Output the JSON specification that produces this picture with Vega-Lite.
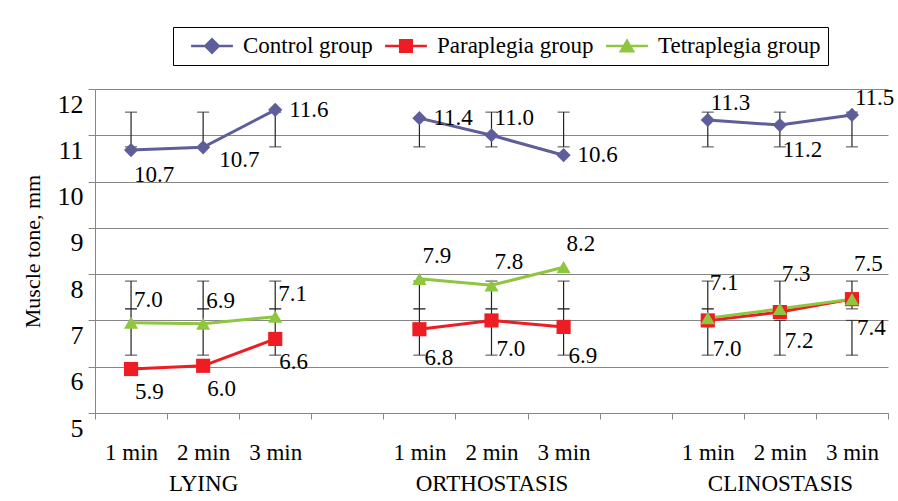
{
  "$schema": "https://vega.github.io/schema/vega-lite/v6.json",
  "width": 793,
  "height": 324,
  "autosize": {"type": "none"},
  "padding": {"left": 95, "top": 89, "right": 10, "bottom": 88},
  "background": "white",
  "config": {"view": {"stroke": null}, "font": "Liberation Serif", "text": {"font": "Liberation Serif"}},
  "resolve": {"scale": {"shape": "independent", "color": "independent"}},
  "datasets": {
    "pts": [
      {"series": "Control group", "cond": "LYING", "slot": "L1", "value": 10.68, "label": "10.7"},
      {"series": "Control group", "cond": "LYING", "slot": "L2", "value": 10.74, "label": "10.7"},
      {"series": "Control group", "cond": "LYING", "slot": "L3", "value": 11.55, "label": "11.6"},
      {"series": "Control group", "cond": "ORTHOSTASIS", "slot": "O1", "value": 11.37, "label": "11.4"},
      {"series": "Control group", "cond": "ORTHOSTASIS", "slot": "O2", "value": 11.0, "label": "11.0"},
      {"series": "Control group", "cond": "ORTHOSTASIS", "slot": "O3", "value": 10.57, "label": "10.6"},
      {"series": "Control group", "cond": "CLINOSTASIS", "slot": "C1", "value": 11.33, "label": "11.3"},
      {"series": "Control group", "cond": "CLINOSTASIS", "slot": "C2", "value": 11.22, "label": "11.2"},
      {"series": "Control group", "cond": "CLINOSTASIS", "slot": "C3", "value": 11.44, "label": "11.5"},
      {"series": "Paraplegia group", "cond": "LYING", "slot": "L1", "value": 5.95, "label": "5.9"},
      {"series": "Paraplegia group", "cond": "LYING", "slot": "L2", "value": 6.02, "label": "6.0"},
      {"series": "Paraplegia group", "cond": "LYING", "slot": "L3", "value": 6.6, "label": "6.6"},
      {"series": "Paraplegia group", "cond": "ORTHOSTASIS", "slot": "O1", "value": 6.81, "label": "6.8"},
      {"series": "Paraplegia group", "cond": "ORTHOSTASIS", "slot": "O2", "value": 7.0, "label": "7.0"},
      {"series": "Paraplegia group", "cond": "ORTHOSTASIS", "slot": "O3", "value": 6.86, "label": "6.9"},
      {"series": "Paraplegia group", "cond": "CLINOSTASIS", "slot": "C1", "value": 7.0, "label": "7.0"},
      {"series": "Paraplegia group", "cond": "CLINOSTASIS", "slot": "C2", "value": 7.18, "label": "7.2"},
      {"series": "Paraplegia group", "cond": "CLINOSTASIS", "slot": "C3", "value": 7.46, "label": "7.4"},
      {"series": "Tetraplegia group", "cond": "LYING", "slot": "L1", "value": 6.95, "label": "7.0"},
      {"series": "Tetraplegia group", "cond": "LYING", "slot": "L2", "value": 6.93, "label": "6.9"},
      {"series": "Tetraplegia group", "cond": "LYING", "slot": "L3", "value": 7.08, "label": "7.1"},
      {"series": "Tetraplegia group", "cond": "ORTHOSTASIS", "slot": "O1", "value": 7.9, "label": "7.9"},
      {"series": "Tetraplegia group", "cond": "ORTHOSTASIS", "slot": "O2", "value": 7.76, "label": "7.8"},
      {"series": "Tetraplegia group", "cond": "ORTHOSTASIS", "slot": "O3", "value": 8.15, "label": "8.2"},
      {"series": "Tetraplegia group", "cond": "CLINOSTASIS", "slot": "C1", "value": 7.05, "label": "7.1"},
      {"series": "Tetraplegia group", "cond": "CLINOSTASIS", "slot": "C2", "value": 7.25, "label": "7.3"},
      {"series": "Tetraplegia group", "cond": "CLINOSTASIS", "slot": "C3", "value": 7.46, "label": "7.5"}
    ],
    "errs": [
      {"slot": "L1", "low": 10.75, "high": 11.5}, {"slot": "L2", "low": 10.75, "high": 11.5}, {"slot": "L3", "low": 10.75, "high": 11.5},
      {"slot": "O1", "low": 10.75, "high": 11.37}, {"slot": "O2", "low": 10.75, "high": 11.5}, {"slot": "O3", "low": 10.75, "high": 11.5},
      {"slot": "C1", "low": 10.75, "high": 11.5}, {"slot": "C2", "low": 10.75, "high": 11.5}, {"slot": "C3", "low": 10.75, "high": 11.5},
      {"slot": "L1", "low": 7.25, "high": 7.85}, {"slot": "L2", "low": 7.25, "high": 7.85}, {"slot": "L3", "low": 7.25, "high": 7.85},
      {"slot": "O1", "low": 7.25, "high": 7.85}, {"slot": "O2", "low": 7.25, "high": 7.85}, {"slot": "O3", "low": 7.25, "high": 7.85},
      {"slot": "C1", "low": 7.25, "high": 7.85}, {"slot": "C2", "low": 7.25, "high": 7.85}, {"slot": "C3", "low": 7.25, "high": 7.85},
      {"slot": "L1", "low": 6.25, "high": 7.25}, {"slot": "L2", "low": 6.25, "high": 7.25}, {"slot": "L3", "low": 6.25, "high": 7.25},
      {"slot": "O1", "low": 6.25, "high": 7.25}, {"slot": "O2", "low": 6.25, "high": 7.25}, {"slot": "O3", "low": 6.25, "high": 7.25},
      {"slot": "C1", "low": 6.25, "high": 7.25}, {"slot": "C2", "low": 6.25, "high": 7.0}, {"slot": "C3", "low": 6.25, "high": 7.0}
    ]
  },
  "encoding": {
    "x": {
      "field": "slot", "type": "nominal",
      "scale": {"type": "band", "domain": ["L1","L2","L3","g1","O1","O2","O3","g2","C1","C2","C3"], "paddingInner": 0, "paddingOuter": 0},
      "axis": {
        "title": null, "grid": false, "labelAngle": 0,
        "domainColor": "#868686", "tickColor": "#868686", "tickSize": 6, "tickBand": "extent",
        "labelFont": "Liberation Serif", "labelFontSize": 23, "labelColor": "black",
        "labelPadding": 22, "labelLineHeight": 31, "labelOverlap": false, "labelBound": false, "labelFlush": false,
        "labelExpr": "datum.value == 'L2' ? ['2 min', 'LYING'] : datum.value == 'O2' ? ['2 min', 'ORTHOSTASIS'] : datum.value == 'C2' ? ['2 min', 'CLINOSTASIS'] : indexof(['L1','O1','C1'], datum.value) >= 0 ? '1 min' : indexof(['L3','O3','C3'], datum.value) >= 0 ? '3 min' : ''"
      }
    }
  },
  "layer": [
    {
      "data": {"name": "errs"},
      "mark": {"type": "rule", "color": "#222222", "strokeWidth": 1.2},
      "encoding": {
        "y": {"field": "low", "type": "quantitative", "scale": {"domain": [5, 12], "nice": false, "zero": false},
          "axis": {
            "title": "Muscle tone, mm", "titleFont": "Liberation Serif", "titleFontSize": 22, "titleFontWeight": "normal", "titleColor": "black", "titlePadding": 13,
            "values": [5, 6, 7, 8, 9, 10, 11, 12], "format": "d",
            "grid": true, "gridColor": "#868686", "domainColor": "#868686", "tickColor": "#868686", "tickSize": 7,
            "labelFont": "Liberation Serif", "labelFontSize": 26, "labelColor": "black", "labelPadding": 5, "labelBaseline": "top", "labelOffset": 2
          }},
        "y2": {"field": "high"}
      }
    },
    {
      "data": {"name": "errs"},
      "mark": {"type": "tick", "color": "#222222", "thickness": 1.2, "size": 12},
      "encoding": {"y": {"field": "low", "type": "quantitative"}}
    },
    {
      "data": {"name": "errs"},
      "mark": {"type": "tick", "color": "#222222", "thickness": 1.2, "size": 12},
      "encoding": {"y": {"field": "high", "type": "quantitative"}}
    },
    {
      "data": {"name": "pts"},
      "mark": {"type": "line", "strokeWidth": 3},
      "encoding": {
        "y": {"field": "value", "type": "quantitative"},
        "color": {"field": "series", "type": "nominal", "legend": null,
          "scale": {"domain": ["Control group", "Paraplegia group", "Tetraplegia group"], "range": ["#5e5e9a", "#ee1d23", "#8ec63f"]}},
        "detail": {"field": "cond"}
      }
    },
    {
      "data": {"name": "pts"},
      "mark": {"type": "point", "filled": true, "opacity": 1, "size": 200},
      "encoding": {
        "y": {"field": "value", "type": "quantitative"},
        "shape": {"field": "series", "type": "nominal", "legend": null,
          "scale": {"domain": ["Control group", "Paraplegia group", "Tetraplegia group"], "range": ["diamond", "square", "triangle-up"]}},
        "color": {"field": "series", "type": "nominal", "legend": null,
          "scale": {"domain": ["Control group", "Paraplegia group", "Tetraplegia group"], "range": ["#5e5e9a", "#ee1d23", "#8ec63f"]}}
      }
    },
    {
      "data": {"name": "pts"},
      "mark": {"type": "point", "filled": true, "opacity": 0, "size": 484},
      "encoding": {
        "y": {"field": "value", "type": "quantitative"},
        "shape": {"field": "series", "type": "nominal",
          "scale": {"domain": ["Control group", "Paraplegia group", "Tetraplegia group"],
            "range": ["M-1.9,-0.12H1.9V0.12H-1.9ZM0,-0.77L0.77,0L0,0.77L-0.77,0Z", "M-1.9,-0.12H1.9V0.12H-1.9ZM-0.64,-0.64H0.64V0.64H-0.64Z", "M-1.9,-0.12H1.9V0.12H-1.9ZM0,-0.7L0.75,0.6H-0.75Z"]},
          "legend": {
            "orient": "none", "legendX": 78, "legendY": -62, "direction": "horizontal", "title": null,
            "strokeColor": "black", "padding": 7, "labelFont": "Liberation Serif", "labelFontSize": 23, "labelColor": "black", "labelLimit": 400,
            "symbolSize": 484, "symbolOffset": 20, "labelOffset": 19, "columnPadding": 1, "symbolOpacity": 1
          }},
        "color": {"field": "series", "type": "nominal",
          "scale": {"domain": ["Control group", "Paraplegia group", "Tetraplegia group"], "range": ["#5e5e9a", "#ee1d23", "#8ec63f"]},
          "legend": {
            "orient": "none", "legendX": 78, "legendY": -62, "direction": "horizontal", "title": null,
            "strokeColor": "black", "padding": 7, "labelFont": "Liberation Serif", "labelFontSize": 23, "labelColor": "black", "labelLimit": 400,
            "symbolSize": 484, "symbolOffset": 20, "labelOffset": 19, "columnPadding": 1, "symbolOpacity": 1
          }}
      }
    },
    {
      "data": {"name": "pts"},
      "transform": [{"filter": "datum.series == 'Control group' && indexof(['L1','C2'], datum.slot) >= 0"}],
      "mark": {"type": "text", "align": "left", "baseline": "middle", "dx": 3, "dy": 25, "fontSize": 23, "font": "Liberation Serif", "color": "black"},
      "encoding": {"y": {"field": "value", "type": "quantitative"}, "text": {"field": "label"}}
    },
    {
      "data": {"name": "pts"},
      "transform": [{"filter": "datum.series == 'Control group' && indexof(['L3','O1','O3'], datum.slot) >= 0"}],
      "mark": {"type": "text", "align": "left", "baseline": "middle", "dx": 14, "dy": 0, "fontSize": 23, "font": "Liberation Serif", "color": "black"},
      "encoding": {"y": {"field": "value", "type": "quantitative"}, "text": {"field": "label"}}
    },
    {
      "data": {"name": "pts"},
      "transform": [{"filter": "datum.series == 'Control group' && datum.slot == 'L2'"}],
      "mark": {"type": "text", "align": "left", "baseline": "middle", "dx": 16, "dy": 13, "fontSize": 23, "font": "Liberation Serif", "color": "black"},
      "encoding": {"y": {"field": "value", "type": "quantitative"}, "text": {"field": "label"}}
    },
    {
      "data": {"name": "pts"},
      "transform": [{"filter": "datum.series == 'Control group' && indexof(['O2','C1','C3'], datum.slot) >= 0"}],
      "mark": {"type": "text", "align": "left", "baseline": "middle", "dx": 3, "dy": -17, "fontSize": 23, "font": "Liberation Serif", "color": "black"},
      "encoding": {"y": {"field": "value", "type": "quantitative"}, "text": {"field": "label"}}
    },
    {
      "data": {"name": "pts"},
      "transform": [{"filter": "datum.series == 'Paraplegia group' && datum.cond == 'LYING'"}],
      "mark": {"type": "text", "align": "left", "baseline": "middle", "dx": 4, "dy": 23, "fontSize": 23, "font": "Liberation Serif", "color": "black"},
      "encoding": {"y": {"field": "value", "type": "quantitative"}, "text": {"field": "label"}}
    },
    {
      "data": {"name": "pts"},
      "transform": [{"filter": "datum.series == 'Paraplegia group' && datum.cond != 'LYING'"}],
      "mark": {"type": "text", "align": "left", "baseline": "middle", "dx": 5, "dy": 29, "fontSize": 23, "font": "Liberation Serif", "color": "black"},
      "encoding": {"y": {"field": "value", "type": "quantitative"}, "text": {"field": "label"}}
    },
    {
      "data": {"name": "pts"},
      "transform": [{"filter": "datum.series == 'Tetraplegia group' && datum.cond != 'CLINOSTASIS'"}],
      "mark": {"type": "text", "align": "left", "baseline": "middle", "dx": 3, "dy": -23, "fontSize": 23, "font": "Liberation Serif", "color": "black"},
      "encoding": {"y": {"field": "value", "type": "quantitative"}, "text": {"field": "label"}}
    },
    {
      "data": {"name": "pts"},
      "transform": [{"filter": "datum.series == 'Tetraplegia group' && datum.cond == 'CLINOSTASIS'"}],
      "mark": {"type": "text", "align": "left", "baseline": "middle", "dx": 2, "dy": -35, "fontSize": 23, "font": "Liberation Serif", "color": "black"},
      "encoding": {"y": {"field": "value", "type": "quantitative"}, "text": {"field": "label"}}
    }
  ]
}
